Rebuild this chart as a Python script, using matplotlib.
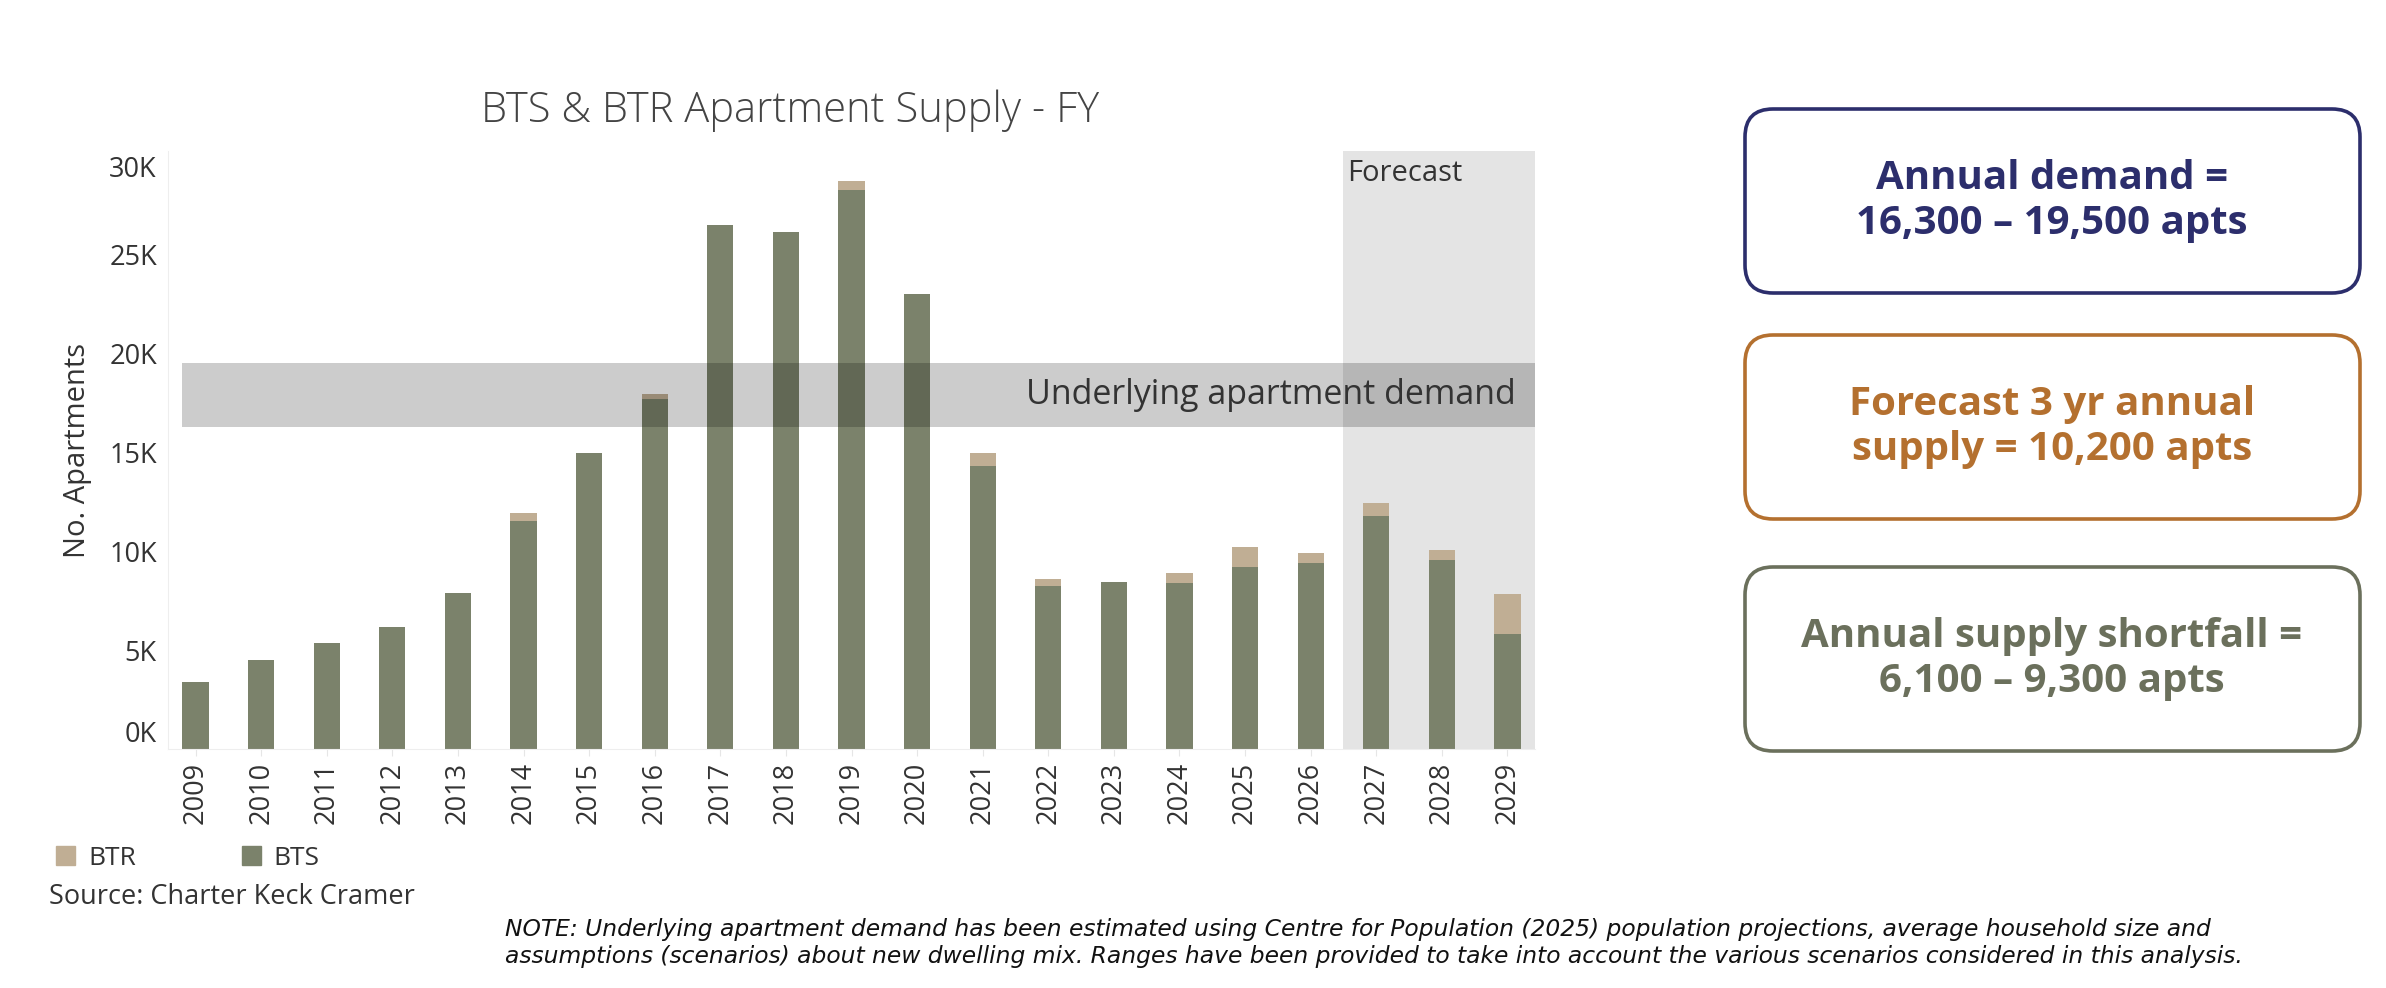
import matplotlib.pyplot as plt
from matplotlib.patches import FancyBboxPatch, Patch
from matplotlib.ticker import FuncFormatter

# --- dane ---
years = [str(y) for y in range(2009, 2030)]
bts = [3400, 4500, 5350, 6150, 7900, 11550, 14950, 17700, 26500, 26150, 28250,
       23000, 14300, 8250, 8450, 8400, 9200, 9400, 11800, 9550, 5800]
btr = [0, 0, 0, 0, 0, 400, 0, 270, 0, 0, 450,
       0, 650, 330, 0, 520, 1000, 530, 650, 530, 2050]
demand_low, demand_high = 16300, 19500
forecast_start = 2027

box_texts = ["Annual demand =\n16,300 \u2013 19,500 apts",
             "Forecast 3 yr annual\nsupply = 10,200 apts",
             "Annual supply shortfall =\n6,100 \u2013 9,300 apts"]
box_colors = ['#2c2e6c', '#b4702f', '#6b705c']

C_BTS = '#7b826b'
C_BTR = '#c0ae94'
TXT = '#333333'

plt.rcParams['font.family'] = ['Open Sans', 'DejaVu Sans']

W, H = 2386, 988
fig = plt.figure(figsize=(W / 100, H / 100), dpi=100)

# os wykresu w pikselach: lewo 168, prawo 1535, dol 749, gora 151
ax = fig.add_axes([168 / W, 1 - 749 / H, (1535 - 168) / W, (749 - 151) / H])

x = list(range(len(years)))
fc_idx = years.index(str(forecast_start))

ax.axvspan(fc_idx - 0.5, 20.42, color='#e4e4e4', zorder=0, lw=0)
ax.bar(x, bts, width=0.4, color=C_BTS, zorder=2, label='BTS')
ax.bar(x, btr, width=0.4, bottom=bts, color=C_BTR, zorder=2, label='BTR')

# pas popytu (polprzezroczysty, na wierzchu slupkow)
ax.fill_between([-0.2, 20.42], demand_low, demand_high, color='black',
                alpha=0.2, lw=0, zorder=3)
ax.text(20.12, (demand_low + demand_high) / 2, 'Underlying apartment demand',
        ha='right', va='center', fontsize=24.5, color=TXT, zorder=4)
ax.text(fc_idx - 0.45, 29100, 'Forecast', ha='left', va='center',
        fontsize=21, color=TXT, zorder=4)

ax.set_xlim(-0.42, 20.42)
ax.set_ylim(0, 30230)
ax.set_xticks(x)
ax.set_xticklabels(years, rotation=90, fontsize=19.5, color=TXT)
ax.set_yticks(range(0, 30001, 5000))
ax.yaxis.set_major_formatter(FuncFormatter(lambda v, p: f'{int(v / 1000)}K'))
ax.tick_params(axis='y', length=0, labelsize=19.5, labelcolor=TXT, pad=8)
ax.tick_params(axis='x', length=5, color='#e6e6e6', pad=4)
labels = ax.get_yticklabels()
labels[0].set_verticalalignment('bottom')
labels[-1].set_verticalalignment('top')
ax.set_ylabel('No. Apartments', fontsize=21, color=TXT, labelpad=12)
for s in ['top', 'right']:
    ax.spines[s].set_visible(False)
for s in ['left', 'bottom']:
    ax.spines[s].set_color('#eeeeee')

fig.text(790 / W, 1 - 111 / H, 'BTS & BTR Apartment Supply - FY', ha='center',
         va='center', fontsize=30, color='#444444', fontweight='light')

fig.legend(handles=[Patch(color=C_BTR, label='BTR'), Patch(color=C_BTS, label='BTS')],
           loc='center left', bbox_to_anchor=(56 / W, 1 - 858 / H), ncol=2,
           frameon=False, fontsize=19, handlelength=0.72, handleheight=0.72,
           handletextpad=0.5, columnspacing=4.0, borderpad=0, borderaxespad=0,
           labelcolor=TXT)
fig.text(49 / W, 1 - 897 / H, 'Source: Charter Keck Cramer', ha='left',
         va='center', fontsize=19.5, color=TXT)
fig.text(505 / W, 1 - 943 / H,
         'NOTE: Underlying apartment demand has been estimated using Centre for Population (2025) '
         'population projections, average household size and\n'
         'assumptions (scenarios) about new dwelling mix. Ranges have been provided to take into '
         'account the various scenarios considered in this analysis.',
         ha='left', va='center', fontsize=16.8, style='italic', color='#111111',
         linespacing=1.25, family=['DejaVu Sans'])

# ramki po prawej, w ukladzie pikseli
ov = fig.add_axes([0, 0, 1, 1], facecolor='none')
ov.set_xlim(0, W)
ov.set_ylim(H, 0)
ov.axis('off')
box_tops = [109, 335, 567]
for top, txt, col in zip(box_tops, box_texts, box_colors):
    ov.add_patch(FancyBboxPatch((1745, top), 615, 184,
                                boxstyle='round,pad=0,rounding_size=28',
                                fc='white', ec=col, lw=2.6))
    ov.text(2052, top + 92, txt, ha='center', va='center', fontsize=29,
            fontweight='bold', color=col, linespacing=1.2)

fig.savefig('out.png', dpi=100)
